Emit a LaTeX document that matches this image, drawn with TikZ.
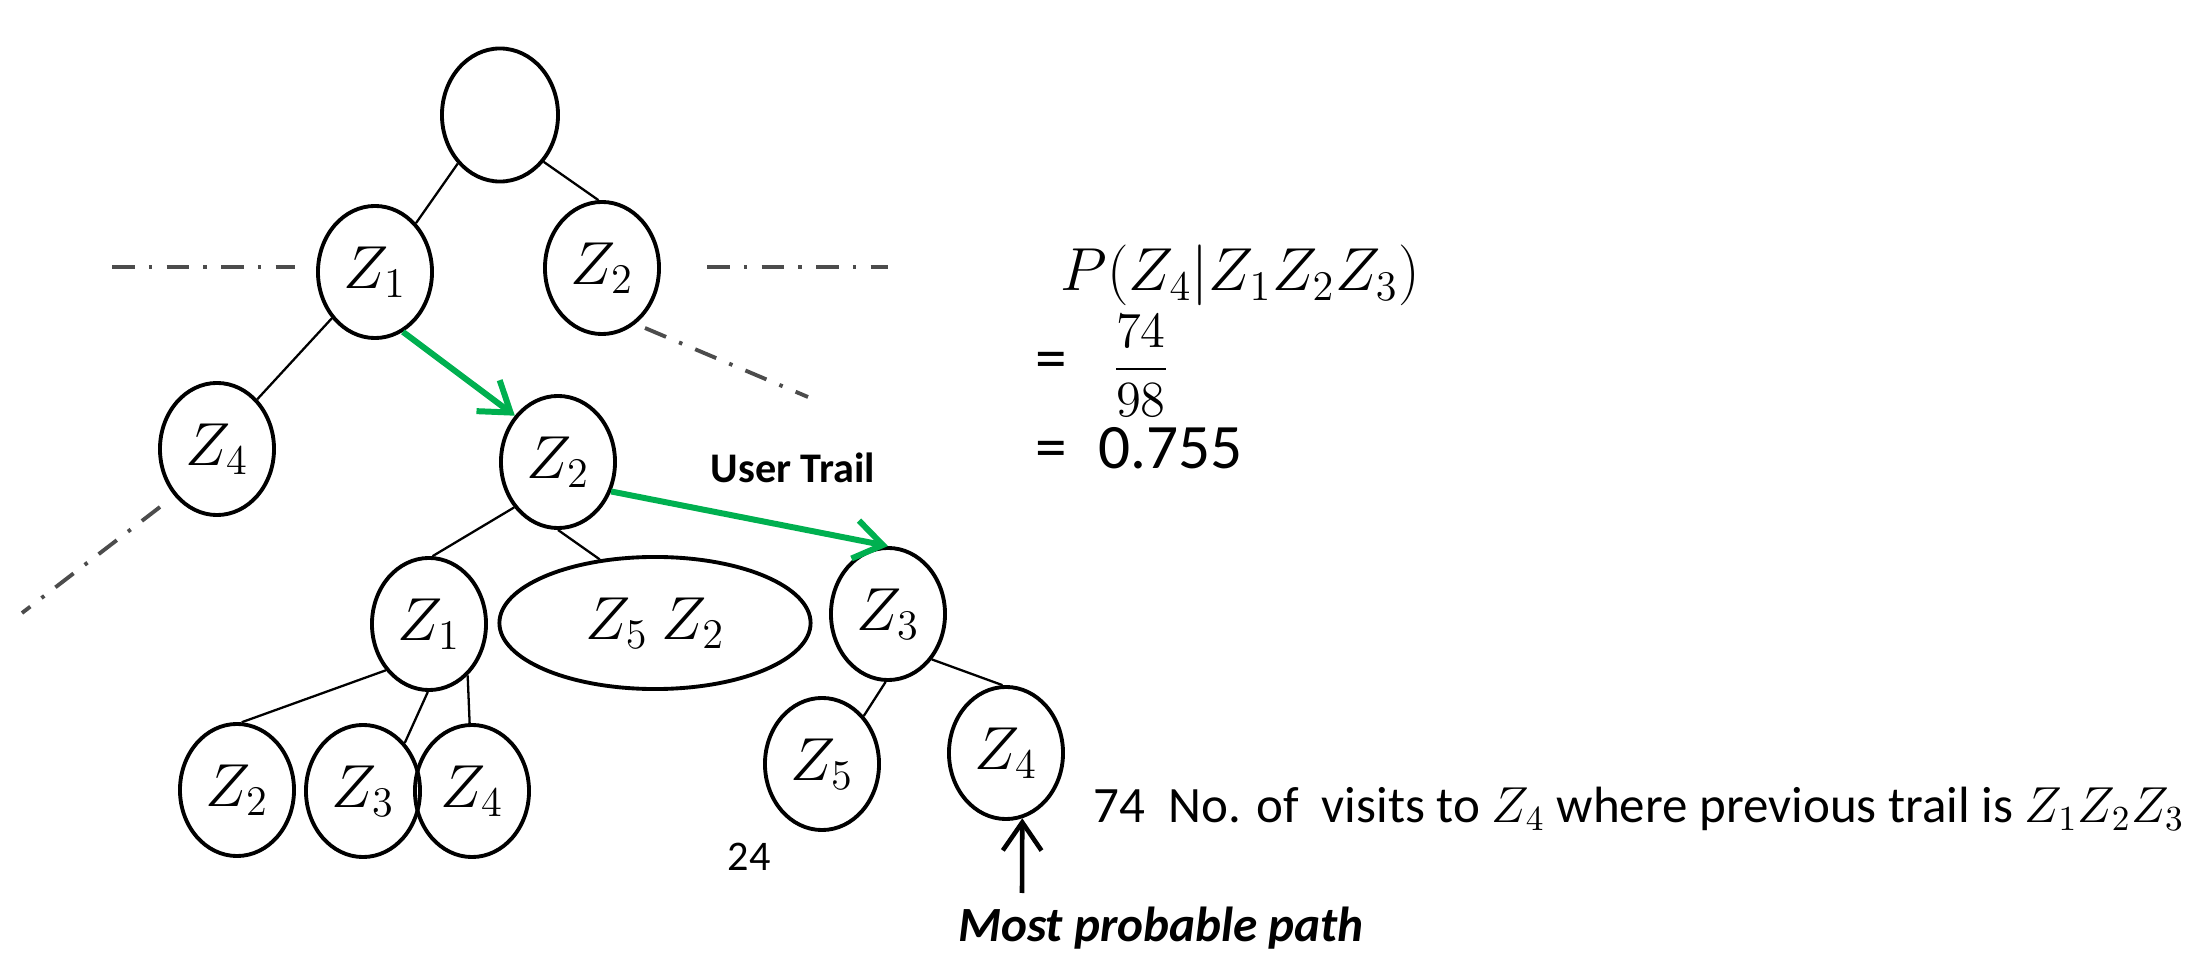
\documentclass[tikz,border=0pt]{standalone}
\usepackage{amsmath}
\usepackage[no-math]{fontspec}
\setmainfont{Carlito}
\usetikzlibrary{shapes.geometric,arrows.meta}
\definecolor{trail}{RGB}{0,176,80}
\tikzset{
  st/.style={ellipse,draw,line width=1.1pt,minimum width=1.14cm,minimum height=1.32cm,
    inner sep=0pt,font=\fontsize{17}{20}\selectfont},
  br/.style={line width=0.65pt},
  trailarr/.style={trail,line width=1.7pt,-{Straight Barb[length=8pt,width=11pt]}},
  cut/.style={black!70,line width=1.1pt,dash pattern=on 6.5pt off 4pt on 1pt off 4pt},
  lbl/.style={inner sep=0pt}
}
\begin{document}
\begin{tikzpicture}[x=0.01cm,y=-0.01cm]
\useasboundingbox (0,0) rectangle (2202,955);
% tree
\node[st,minimum width=1.16cm,minimum height=1.33cm] (n0) at (500,115) {};
\node[st] (z1) at (375,272) {$Z_1$};
\node[st] (z2) at (602,268) {$Z_2$};
\node[st] (z4a) at (217,449) {$Z_4$};
\node[st] (z2b) at (558,462) {$Z_2$};
\node[st] (z1b) at (429,624) {$Z_1$};
\node[st,minimum width=3.11cm] (z52) at (655,623) {$Z_5\ Z_2$};
\node[st] (z3) at (888,614) {$Z_3$};
\node[st] (z2c) at (237,790) {$Z_2$};
\node[st] (z3b) at (363,791) {$Z_3$};
\node[st] (z4b) at (472,791) {$Z_4$};
\node[st] (z5) at (822,764) {$Z_5$};
\node[st] (z4c) at (1006,753) {$Z_4$};
% branches
\draw[br] (n0.229) -- (z1.50);
\draw[br] (n0.313) -- (z2.93);
\draw[br] (z1.227) -- (z4a.51);
\draw[br] (z2b.226) -- (z1b.87);
\draw[br] (z2b.270) -- (z52.131);
\draw[br] (z1b.227) -- (z2c.86);
\draw[br] (z1b.269) -- (z3b.49);
\draw[br] (z1b.307) -- (z4b.92);
\draw[br] (z3.268) -- (z5.49);
\draw[br] (z3.314) -- (z4c.93);
% user trail
\draw[trailarr] (z1.295) -- (z2b.133);
\draw[trailarr] (z2b.331) -- (z3.90);
\node[lbl,anchor=base,font=\bfseries\fontsize{12}{14}\selectfont] (ut) at (793,483) {User Trail};
% pruned parts
\scope[cut]
\draw (112,267) -- (295,267);
\draw (707,267) -- (888,267);
\draw (645,328) -- (808,397);
\draw (160,507) -- (22,613);
\endscope
% probability
\node[lbl,anchor=base west,font=\fontsize{18.5}{21}\selectfont] (pz) at (1060,291) {$P(Z_4|Z_1Z_2Z_3)$};
\node[lbl,anchor=base west,font=\fontsize{18}{20}\selectfont] (eqa) at (1035,380) {=};
\node[lbl,font=\fontsize{13.5}{16}\selectfont] (fr) at (1141,366) {$\dfrac{74}{98}$};
\node[lbl,anchor=base west,font=\fontsize{18}{20}\selectfont] (eqb) at (1035,469) {=};
\node[lbl,anchor=base west,font=\fontsize{18}{20}\selectfont] (val) at (1098,469) {0.755};
% counts
\node[lbl,anchor=base west,font=\fontsize{14.5}{17}\selectfont] (cnt) at (1093,823)
  {74\ \ No. of\ \ visits to $Z_4$ where previous trail is $Z_1Z_2Z_3$};
\node[lbl,font=\fontsize{12}{14}\selectfont] (c24) at (749,857) {24};
% most probable path
\coordinate (mpa) at (1022,893);
\draw[line width=1.3pt,-{Straight Barb[length=8pt,width=11pt]}] (mpa) -- (z4c.284);
\node[lbl,anchor=base,font=\bfseries\itshape\fontsize{14}{17}\selectfont] (mpp) at (1161,941) {Most probable path};
\end{tikzpicture}
\end{document}
